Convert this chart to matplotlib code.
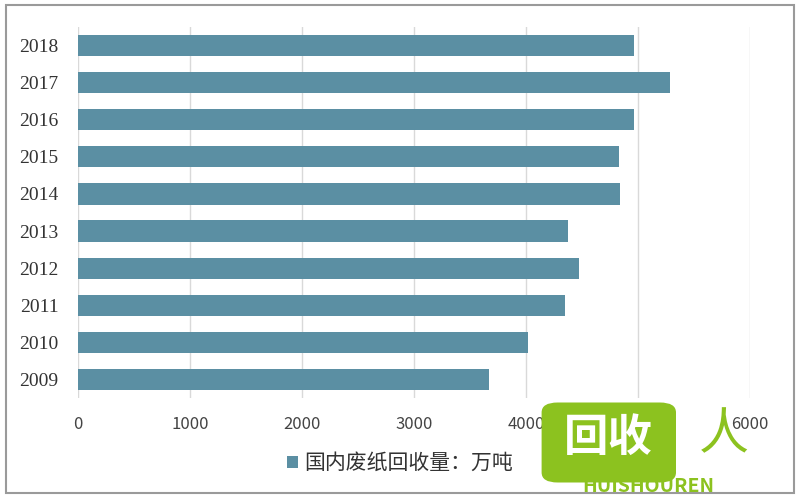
import matplotlib.pyplot as plt
from matplotlib.patches import Rectangle, FancyBboxPatch

plt.rcParams['font.family'] = ['Noto Sans CJK SC', 'DejaVu Sans']

# data
years = ['2009', '2010', '2011', '2012', '2013', '2014', '2015', '2016', '2017', '2018']
recycled = [3672, 4016, 4347, 4472, 4377, 4841, 4832, 4963, 5285, 4964]
series_name = '国内废纸回收量：万吨'
x_ticks = [0, 1000, 2000, 3000, 4000, 5000, 6000]

bar_color = '#5B8FA3'

fig = plt.figure(figsize=(8, 5), dpi=100)
ax = fig.add_axes([0.0975, 0.204, 0.84, 0.742])

ax.barh(range(len(years)), recycled, height=0.57, color=bar_color, label=series_name, zorder=3)

ax.set_xlim(0, 6000)
ax.set_ylim(-0.5, len(years) - 0.5)
ax.set_xticks(x_ticks)
ax.set_xticklabels([str(v) for v in x_ticks], fontsize=12, color='#444444')
ax.set_yticks(range(len(years)))
ax.set_yticklabels(years, fontsize=14, color='#333333', family='Liberation Serif')
ax.tick_params(length=0, pad=14)
ax.tick_params(axis='x', pad=13)
ax.grid(axis='x', color='#D9D9D9', linewidth=1, zorder=0)
for s in ax.spines.values():
    s.set_visible(False)

leg = fig.legend(loc='center', bbox_to_anchor=(0.5, 0.074), frameon=False,
                 fontsize=15, handlelength=0.5, handleheight=0.5, handletextpad=0.3)
for t in leg.get_texts():
    t.set_color('#333333')

# outer frame
fig.patches.append(Rectangle((0.008, 0.014), 0.984, 0.976, transform=fig.transFigure,
                             fill=False, edgecolor='#9A9A9A', linewidth=1.5))

# watermark
green = '#8CC21F'
fig.patches.append(FancyBboxPatch((0.682, 0.04), 0.158, 0.15, transform=fig.transFigure,
                                  boxstyle='round,pad=0.005,rounding_size=0.02',
                                  facecolor=green, edgecolor='none', zorder=5))
fig.text(0.761, 0.125, '回收', fontsize=32, fontweight='bold', color='white',
         ha='center', va='center', zorder=6)
fig.text(0.81, 0.028, 'HUISHOUREN', fontsize=14, fontweight='bold', fontstyle='italic',
         color=green, ha='center', va='center', zorder=6)
fig.text(0.905, 0.13, '人', fontsize=36, color=green, ha='center', va='center', zorder=6)

fig.savefig('out.png', dpi=100)
